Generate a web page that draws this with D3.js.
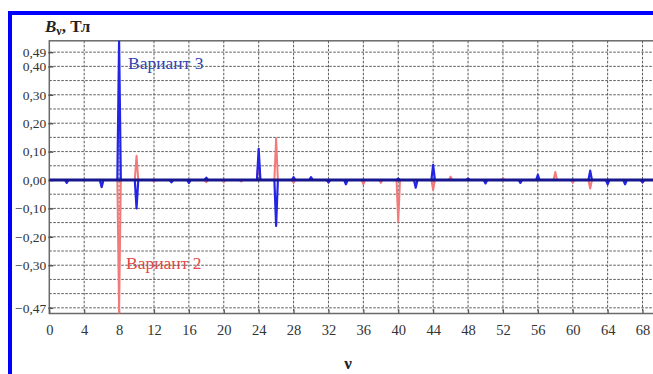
<!DOCTYPE html>
<html>
<head>
<meta charset="utf-8">
<script src="https://cdn.jsdelivr.net/npm/d3@7"></script>
<style>
  body { margin: 0; background: #fff; }
  svg { display: block; }
  svg text { font-family: 'Liberation Serif', 'DejaVu Serif', serif; }
</style>
</head>
<body>
<div class="chart"></div>
<script>
// harmonic numbers and amplitudes (Tl)
const nu2 = [6, 8, 10, 12, 16, 18, 20, 22, 24, 26, 28, 32, 36, 38, 40, 44, 46, 48, 52, 58, 60, 62, 68];
const b2 = [-0.025, -0.47, 0.085, -0.005, -0.01, -0.008, -0.008, -0.005, 0.07, 0.147, -0.01, -0.01, -0.015, -0.01, -0.147, -0.035, 0.012, 0.005, 0.006, 0.028, -0.01, -0.03, -0.01];

const nu3 = [2, 6, 8, 10, 14, 16, 18, 24, 26, 28, 30, 32, 34, 40, 42, 44, 48, 50, 54, 56, 62, 64, 66, 68];
const b3 = [-0.01, -0.025, 0.49, -0.10, -0.008, -0.01, 0.008, 0.11, -0.162, 0.01, 0.01, -0.008, -0.015, 0.005, -0.027, 0.053, 0.005, -0.012, -0.01, 0.018, 0.033, -0.015, -0.015, -0.008];

// axis ticks
const xTicks = d3.range(0, 69, 4);
const yGrid = d3.range(-0.45, 0.451, 0.05);
const yTickValues = [0.45, 0.40, 0.30, 0.20, 0.10, 0, -0.10, -0.20, -0.30, -0.45];
const yTickLabels = ['0,49', '0,40', '0,30', '0,20', '0,10', '0,00', '\u22120,10', '\u22120,20', '\u22120,30', '\u22120,47'];

const W = 653, H = 374;
const plot = { left: 49.3, top: 40.8, right: 653, bottom: 313.5 };

const xScale = d3.scaleLinear().domain([0, 69.2]).range([plot.left, plot.right]);
const yScale = d3.scaleLinear().domain([-0.47, 0.49]).range([plot.bottom, plot.top]);

// turn harmonic amplitudes into a spiky line along zero
function spikes(nus, vals) {
    const pts = [[0, 0]];
    nus.forEach((n, i) => {
        pts.push([n - 0.2, 0], [n, vals[i]], [n + 0.2, 0]);
    });
    pts.push([69.2, 0]);
    return pts;
}

const svg = d3.select('.chart')
    .append('svg')
    .attr('width', W)
    .attr('height', H);

svg.append('clipPath')
    .attr('id', 'clip')
    .append('rect')
    .attr('x', plot.left)
    .attr('y', plot.top)
    .attr('width', plot.right - plot.left)
    .attr('height', plot.bottom - plot.top);

// series labels (grid runs over them like in the scan)
svg.append('text')
    .attr('x', 128)
    .attr('y', yScale(0.40) + 3)
    .attr('font-size', 17.5)
    .attr('fill', '#2f3fb4')
    .text('Вариант 3');

svg.append('text')
    .attr('x', 126)
    .attr('y', yScale(-0.30) + 4)
    .attr('font-size', 17.5)
    .attr('fill', '#e24848')
    .text('Вариант 2');

// grid
svg.append('g')
    .selectAll('line')
    .data(yGrid)
    .join('line')
    .attr('x1', plot.left)
    .attr('x2', plot.right)
    .attr('y1', d => yScale(d))
    .attr('y2', d => yScale(d))
    .attr('stroke', '#5a5a5a')
    .attr('stroke-width', 1)
    .attr('stroke-dasharray', '2.5,1.5');

svg.append('g')
    .selectAll('line')
    .data(xTicks.slice(1))
    .join('line')
    .attr('x1', d => xScale(d))
    .attr('x2', d => xScale(d))
    .attr('y1', plot.top)
    .attr('y2', plot.bottom)
    .attr('stroke', '#5a5a5a')
    .attr('stroke-width', 1)
    .attr('stroke-dasharray', '2.5,1.5');

// frame
svg.append('rect')
    .attr('x', plot.left)
    .attr('y', plot.top)
    .attr('width', plot.right - plot.left + 5)
    .attr('height', plot.bottom - plot.top)
    .attr('fill', 'none')
    .attr('stroke', '#6a6a6a')
    .attr('stroke-width', 1.5);

// axes
const yAxis = d3.axisLeft(yScale)
    .tickValues(yTickValues)
    .tickFormat((d, i) => yTickLabels[i])
    .tickSizeInner(4)
    .tickSizeOuter(0)
    .tickPadding(0);

const yAxisDraw = svg.append('g')
    .attr('transform', `translate(${plot.left}, 0)`)
    .call(yAxis);
yAxisDraw.attr('font-family', null);
yAxisDraw.select('.domain').remove();
yAxisDraw.selectAll('line').attr('stroke', '#555').attr('stroke-width', 1.5).attr('x2', 4).attr('x1', -1);
yAxisDraw.selectAll('text')
    .attr('x', -3)
    .style('font-size', '13.5px')
    .attr('fill', '#333');

const xAxis = d3.axisBottom(xScale)
    .tickValues(xTicks)
    .tickFormat(d3.format('d'))
    .tickSizeInner(-4)
    .tickSizeOuter(0)
    .tickPadding(11);

const xAxisDraw = svg.append('g')
    .attr('transform', `translate(0, ${plot.bottom})`)
    .call(xAxis);
xAxisDraw.attr('font-family', null);
xAxisDraw.select('.domain').remove();
xAxisDraw.selectAll('line').attr('stroke', '#555').attr('stroke-width', 1.2);
xAxisDraw.selectAll('text')
    .style('font-size', '14.5px')
    .attr('fill', '#333');

// series
const line = d3.line()
    .x(d => xScale(d[0]))
    .y(d => yScale(d[1]));

const series = svg.append('g').attr('clip-path', 'url(#clip)');

series.append('path')
    .datum(spikes(nu2, b2))
    .attr('d', line)
    .attr('fill', 'none')
    .attr('stroke', '#f27a7a')
    .attr('stroke-width', 2)
    .attr('stroke-linejoin', 'round');

series.append('path')
    .datum(spikes(nu3, b3))
    .attr('d', line)
    .attr('fill', 'none')
    .attr('stroke', '#2424e6')
    .attr('stroke-width', 2.2)
    .attr('stroke-linejoin', 'round');

// dark baseline where both series overlap at zero
series.append('line')
    .attr('x1', plot.left)
    .attr('x2', plot.right)
    .attr('y1', yScale(0))
    .attr('y2', yScale(0))
    .attr('stroke', '#16168e')
    .attr('stroke-width', 3);

// y title
const title = svg.append('text')
    .attr('x', 45)
    .attr('y', 32)
    .attr('font-weight', 'bold')
    .attr('font-size', 17)
    .attr('fill', '#222');
title.append('tspan').attr('font-style', 'italic').text('B');
title.append('tspan').attr('font-size', 12).attr('dy', 3).text('ν');
title.append('tspan').attr('dy', -3).text(', Тл');

// x title
svg.append('text')
    .attr('x', 348)
    .attr('y', 369)
    .attr('text-anchor', 'middle')
    .attr('font-weight', 'bold')
    .attr('font-size', 17)
    .attr('fill', '#222')
    .text('ν');

// blue scan frame
svg.append('line')
    .attr('x1', 8).attr('x2', W)
    .attr('y1', 13).attr('y2', 13)
    .attr('stroke', '#0000ff')
    .attr('stroke-width', 4);
svg.append('line')
    .attr('x1', 10).attr('x2', 10)
    .attr('y1', 11).attr('y2', H)
    .attr('stroke', '#0000ff')
    .attr('stroke-width', 4);
</script>
</body>
</html>
